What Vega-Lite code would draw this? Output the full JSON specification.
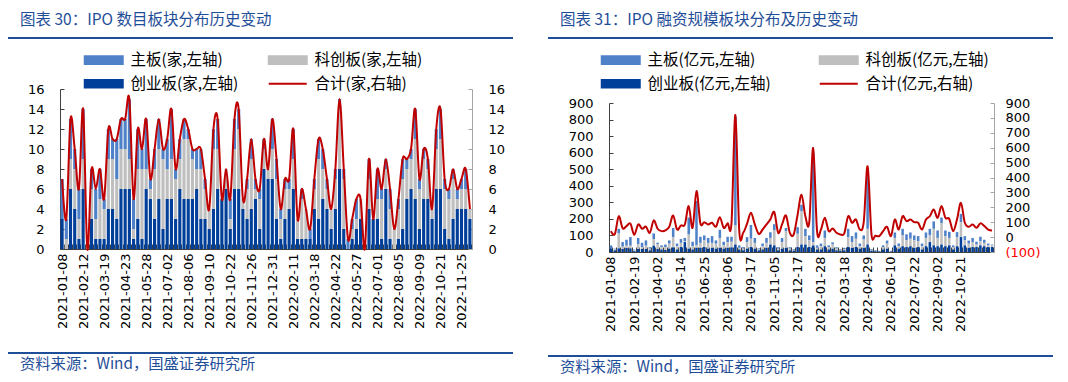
{
  "$schema": "https://vega.github.io/schema/vega-lite/v6.json",
  "padding": {"left": 8, "top": 12, "right": 0, "bottom": 0},
  "config": {
    "font": "Noto Sans CJK SC",
    "view": {"stroke": null},
    "axis": {"labelFont": "DejaVu Sans", "labelFontSize": 13, "labelColor": "#000000", "grid": false, "domainColor": "#404040", "tickColor": "#404040"},
    "legend": {"labelFont": "Noto Sans CJK SC", "labelFontSize": 15.5, "labelColor": "#000000", "padding": 0},
    "title": {"font": "Noto Sans CJK SC", "color": "#1F4E99", "fontWeight": "normal", "anchor": "start"},
    "concat": {"spacing": 34}
  },
  "datasets": {
    "cnt": [
      {"date":"2021-01-08","cyb":3,"kcb":0,"zb":4,"hj":7},
      {"date":"2021-01-15","cyb":0,"kcb":1,"zb":2,"hj":3},
      {"date":"2021-01-22","cyb":6,"kcb":3,"zb":4,"hj":13},
      {"date":"2021-01-29","cyb":4,"kcb":4,"zb":2,"hj":10},
      {"date":"2021-02-05","cyb":1,"kcb":2,"zb":3,"hj":6},
      {"date":"2021-02-12","cyb":6,"kcb":3,"zb":5,"hj":14},
      {"date":"2021-02-19","cyb":0,"kcb":0,"zb":0,"hj":0},
      {"date":"2021-02-26","cyb":3,"kcb":3,"zb":2,"hj":8},
      {"date":"2021-03-05","cyb":1,"kcb":2,"zb":3,"hj":6},
      {"date":"2021-03-12","cyb":1,"kcb":4,"zb":3,"hj":8},
      {"date":"2021-03-19","cyb":1,"kcb":3,"zb":1,"hj":5},
      {"date":"2021-03-26","cyb":4,"kcb":5,"zb":3,"hj":12},
      {"date":"2021-04-02","cyb":4,"kcb":5,"zb":2,"hj":11},
      {"date":"2021-04-09","cyb":3,"kcb":4,"zb":4,"hj":11},
      {"date":"2021-04-16","cyb":6,"kcb":4,"zb":3,"hj":13},
      {"date":"2021-04-23","cyb":6,"kcb":4,"zb":3,"hj":13},
      {"date":"2021-04-30","cyb":6,"kcb":3,"zb":6,"hj":15},
      {"date":"2021-05-07","cyb":1,"kcb":1,"zb":3,"hj":5},
      {"date":"2021-05-14","cyb":3,"kcb":5,"zb":4,"hj":12},
      {"date":"2021-05-21","cyb":1,"kcb":7,"zb":2,"hj":10},
      {"date":"2021-05-28","cyb":6,"kcb":2,"zb":5,"hj":13},
      {"date":"2021-06-04","cyb":5,"kcb":1,"zb":1,"hj":7},
      {"date":"2021-06-11","cyb":3,"kcb":5,"zb":2,"hj":10},
      {"date":"2021-06-18","cyb":5,"kcb":5,"zb":3,"hj":13},
      {"date":"2021-06-25","cyb":2,"kcb":7,"zb":1,"hj":10},
      {"date":"2021-07-02","cyb":5,"kcb":3,"zb":3,"hj":11},
      {"date":"2021-07-09","cyb":5,"kcb":4,"zb":5,"hj":14},
      {"date":"2021-07-16","cyb":3,"kcb":4,"zb":1,"hj":8},
      {"date":"2021-07-23","cyb":6,"kcb":3,"zb":2,"hj":11},
      {"date":"2021-07-30","cyb":5,"kcb":6,"zb":2,"hj":13},
      {"date":"2021-08-06","cyb":5,"kcb":6,"zb":1,"hj":12},
      {"date":"2021-08-13","cyb":5,"kcb":4,"zb":1,"hj":10},
      {"date":"2021-08-20","cyb":6,"kcb":2,"zb":2,"hj":10},
      {"date":"2021-08-27","cyb":3,"kcb":5,"zb":2,"hj":10},
      {"date":"2021-09-03","cyb":3,"kcb":3,"zb":1,"hj":7},
      {"date":"2021-09-10","cyb":2,"kcb":2,"zb":0,"hj":4},
      {"date":"2021-09-17","cyb":4,"kcb":6,"zb":2,"hj":12},
      {"date":"2021-09-24","cyb":6,"kcb":4,"zb":3,"hj":13},
      {"date":"2021-10-08","cyb":5,"kcb":0,"zb":0,"hj":5},
      {"date":"2021-10-15","cyb":6,"kcb":2,"zb":0,"hj":8},
      {"date":"2021-10-22","cyb":2,"kcb":1,"zb":2,"hj":5},
      {"date":"2021-10-29","cyb":6,"kcb":4,"zb":3,"hj":13},
      {"date":"2021-11-05","cyb":6,"kcb":6,"zb":2,"hj":14},
      {"date":"2021-11-12","cyb":4,"kcb":1,"zb":0,"hj":5},
      {"date":"2021-11-19","cyb":3,"kcb":3,"zb":1,"hj":7},
      {"date":"2021-11-26","cyb":4,"kcb":5,"zb":2,"hj":11},
      {"date":"2021-12-03","cyb":5,"kcb":1,"zb":1,"hj":7},
      {"date":"2021-12-10","cyb":2,"kcb":3,"zb":1,"hj":6},
      {"date":"2021-12-17","cyb":8,"kcb":2,"zb":1,"hj":11},
      {"date":"2021-12-24","cyb":7,"kcb":1,"zb":0,"hj":8},
      {"date":"2021-12-31","cyb":7,"kcb":3,"zb":3,"hj":13},
      {"date":"2022-01-07","cyb":3,"kcb":4,"zb":2,"hj":9},
      {"date":"2022-01-14","cyb":1,"kcb":2,"zb":1,"hj":4},
      {"date":"2022-01-21","cyb":3,"kcb":3,"zb":1,"hj":7},
      {"date":"2022-01-28","cyb":4,"kcb":2,"zb":1,"hj":7},
      {"date":"2022-02-11","cyb":6,"kcb":3,"zb":3,"hj":12},
      {"date":"2022-02-18","cyb":1,"kcb":2,"zb":0,"hj":3},
      {"date":"2022-02-25","cyb":1,"kcb":4,"zb":1,"hj":6},
      {"date":"2022-03-04","cyb":1,"kcb":3,"zb":0,"hj":4},
      {"date":"2022-03-11","cyb":1,"kcb":0,"zb":1,"hj":2},
      {"date":"2022-03-18","cyb":4,"kcb":2,"zb":1,"hj":7},
      {"date":"2022-03-25","cyb":3,"kcb":6,"zb":2,"hj":11},
      {"date":"2022-04-01","cyb":5,"kcb":3,"zb":2,"hj":10},
      {"date":"2022-04-08","cyb":4,"kcb":2,"zb":1,"hj":7},
      {"date":"2022-04-15","cyb":2,"kcb":2,"zb":0,"hj":4},
      {"date":"2022-04-22","cyb":4,"kcb":3,"zb":1,"hj":8},
      {"date":"2022-04-29","cyb":8,"kcb":6,"zb":1,"hj":15},
      {"date":"2022-05-06","cyb":2,"kcb":5,"zb":1,"hj":8},
      {"date":"2022-05-13","cyb":0,"kcb":0,"zb":1,"hj":1},
      {"date":"2022-05-20","cyb":1,"kcb":1,"zb":1,"hj":3},
      {"date":"2022-05-27","cyb":2,"kcb":1,"zb":2,"hj":5},
      {"date":"2022-06-03","cyb":3,"kcb":2,"zb":0,"hj":5},
      {"date":"2022-06-10","cyb":0,"kcb":0,"zb":0,"hj":0},
      {"date":"2022-06-17","cyb":4,"kcb":3,"zb":2,"hj":9},
      {"date":"2022-06-24","cyb":3,"kcb":0,"zb":0,"hj":3},
      {"date":"2022-07-01","cyb":3,"kcb":2,"zb":3,"hj":8},
      {"date":"2022-07-08","cyb":1,"kcb":4,"zb":1,"hj":6},
      {"date":"2022-07-15","cyb":6,"kcb":2,"zb":1,"hj":9},
      {"date":"2022-07-22","cyb":1,"kcb":3,"zb":2,"hj":6},
      {"date":"2022-07-29","cyb":0,"kcb":2,"zb":0,"hj":2},
      {"date":"2022-08-05","cyb":1,"kcb":3,"zb":1,"hj":5},
      {"date":"2022-08-12","cyb":2,"kcb":5,"zb":2,"hj":9},
      {"date":"2022-08-19","cyb":5,"kcb":3,"zb":1,"hj":9},
      {"date":"2022-08-26","cyb":6,"kcb":3,"zb":1,"hj":10},
      {"date":"2022-09-02","cyb":5,"kcb":6,"zb":3,"hj":14},
      {"date":"2022-09-09","cyb":2,"kcb":4,"zb":1,"hj":7},
      {"date":"2022-09-16","cyb":5,"kcb":4,"zb":1,"hj":10},
      {"date":"2022-09-23","cyb":5,"kcb":3,"zb":1,"hj":9},
      {"date":"2022-09-30","cyb":3,"kcb":1,"zb":0,"hj":4},
      {"date":"2022-10-14","cyb":6,"kcb":4,"zb":2,"hj":12},
      {"date":"2022-10-21","cyb":6,"kcb":5,"zb":3,"hj":14},
      {"date":"2022-10-28","cyb":2,"kcb":4,"zb":1,"hj":7},
      {"date":"2022-11-04","cyb":1,"kcb":4,"zb":1,"hj":6},
      {"date":"2022-11-11","cyb":3,"kcb":4,"zb":1,"hj":8},
      {"date":"2022-11-18","cyb":4,"kcb":1,"zb":1,"hj":6},
      {"date":"2022-11-25","cyb":4,"kcb":2,"zb":1,"hj":7},
      {"date":"2022-12-02","cyb":4,"kcb":2,"zb":2,"hj":8},
      {"date":"2022-12-09","cyb":3,"kcb":1,"zb":0,"hj":4}
    ],
    "amt": [
      {"date":"2021-01-08","cyb":20,"kcb":0,"zb":20,"hj":40},
      {"date":"2021-01-15","cyb":10,"kcb":5,"zb":5,"hj":20},
      {"date":"2021-01-22","cyb":22,"kcb":90,"zb":28,"hj":140},
      {"date":"2021-01-29","cyb":18,"kcb":14,"zb":28,"hj":60},
      {"date":"2021-02-05","cyb":24,"kcb":14,"zb":36,"hj":74},
      {"date":"2021-02-12","cyb":22,"kcb":16,"zb":52,"hj":90},
      {"date":"2021-02-19","cyb":5,"kcb":5,"zb":5,"hj":15},
      {"date":"2021-02-26","cyb":18,"kcb":30,"zb":37,"hj":85},
      {"date":"2021-03-05","cyb":18,"kcb":10,"zb":28,"hj":56},
      {"date":"2021-03-12","cyb":18,"kcb":20,"zb":32,"hj":70},
      {"date":"2021-03-19","cyb":10,"kcb":10,"zb":9,"hj":29},
      {"date":"2021-03-26","cyb":38,"kcb":40,"zb":34,"hj":112},
      {"date":"2021-04-02","cyb":18,"kcb":28,"zb":10,"hj":56},
      {"date":"2021-04-09","cyb":15,"kcb":15,"zb":10,"hj":40},
      {"date":"2021-04-16","cyb":12,"kcb":18,"zb":15,"hj":45},
      {"date":"2021-04-23","cyb":20,"kcb":30,"zb":20,"hj":70},
      {"date":"2021-04-30","cyb":28,"kcb":62,"zb":55,"hj":145},
      {"date":"2021-05-07","cyb":15,"kcb":20,"zb":16,"hj":51},
      {"date":"2021-05-14","cyb":30,"kcb":25,"zb":23,"hj":78},
      {"date":"2021-05-21","cyb":60,"kcb":5,"zb":20,"hj":85},
      {"date":"2021-05-28","cyb":20,"kcb":85,"zb":103,"hj":208},
      {"date":"2021-06-04","cyb":15,"kcb":20,"zb":27,"hj":62},
      {"date":"2021-06-11","cyb":25,"kcb":15,"zb":269,"hj":309},
      {"date":"2021-06-18","cyb":25,"kcb":30,"zb":37,"hj":92},
      {"date":"2021-06-25","cyb":30,"kcb":40,"zb":30,"hj":100},
      {"date":"2021-07-02","cyb":20,"kcb":35,"zb":30,"hj":85},
      {"date":"2021-07-09","cyb":25,"kcb":30,"zb":41,"hj":96},
      {"date":"2021-07-16","cyb":20,"kcb":30,"zb":20,"hj":70},
      {"date":"2021-07-23","cyb":25,"kcb":60,"zb":49,"hj":134},
      {"date":"2021-07-30","cyb":20,"kcb":20,"zb":22,"hj":62},
      {"date":"2021-08-06","cyb":25,"kcb":35,"zb":32,"hj":92},
      {"date":"2021-08-13","cyb":28,"kcb":34,"zb":30,"hj":92},
      {"date":"2021-08-20","cyb":45,"kcb":115,"zb":660,"hj":820},
      {"date":"2021-08-27","cyb":15,"kcb":10,"zb":15,"hj":40},
      {"date":"2021-09-03","cyb":10,"kcb":10,"zb":9,"hj":29},
      {"date":"2021-09-10","cyb":20,"kcb":40,"zb":30,"hj":90},
      {"date":"2021-09-17","cyb":30,"kcb":50,"zb":83,"hj":163},
      {"date":"2021-09-24","cyb":20,"kcb":35,"zb":30,"hj":85},
      {"date":"2021-10-08","cyb":10,"kcb":5,"zb":7,"hj":22},
      {"date":"2021-10-15","cyb":15,"kcb":20,"zb":16,"hj":51},
      {"date":"2021-10-22","cyb":25,"kcb":30,"zb":30,"hj":85},
      {"date":"2021-10-29","cyb":45,"kcb":40,"zb":34,"hj":119},
      {"date":"2021-11-05","cyb":40,"kcb":90,"zb":38,"hj":168},
      {"date":"2021-11-12","cyb":10,"kcb":10,"zb":9,"hj":29},
      {"date":"2021-11-19","cyb":20,"kcb":40,"zb":25,"hj":85},
      {"date":"2021-11-26","cyb":25,"kcb":100,"zb":20,"hj":145},
      {"date":"2021-12-03","cyb":10,"kcb":10,"zb":9,"hj":29},
      {"date":"2021-12-10","cyb":8,"kcb":5,"zb":5,"hj":18},
      {"date":"2021-12-17","cyb":30,"kcb":80,"zb":40,"hj":150},
      {"date":"2021-12-24","cyb":45,"kcb":200,"zb":40,"hj":285},
      {"date":"2021-12-31","cyb":45,"kcb":50,"zb":45,"hj":140},
      {"date":"2022-01-07","cyb":30,"kcb":40,"zb":30,"hj":100},
      {"date":"2022-01-14","cyb":40,"kcb":20,"zb":538,"hj":598},
      {"date":"2022-01-21","cyb":15,"kcb":10,"zb":15,"hj":40},
      {"date":"2022-01-28","cyb":15,"kcb":20,"zb":16,"hj":51},
      {"date":"2022-02-11","cyb":35,"kcb":50,"zb":45,"hj":130},
      {"date":"2022-02-18","cyb":15,"kcb":15,"zb":10,"hj":40},
      {"date":"2022-02-25","cyb":20,"kcb":25,"zb":13,"hj":58},
      {"date":"2022-03-04","cyb":10,"kcb":10,"zb":9,"hj":29},
      {"date":"2022-03-11","cyb":8,"kcb":5,"zb":5,"hj":18},
      {"date":"2022-03-18","cyb":10,"kcb":8,"zb":7,"hj":25},
      {"date":"2022-03-25","cyb":30,"kcb":60,"zb":50,"hj":140},
      {"date":"2022-04-01","cyb":25,"kcb":35,"zb":36,"hj":96},
      {"date":"2022-04-08","cyb":30,"kcb":50,"zb":38,"hj":118},
      {"date":"2022-04-15","cyb":20,"kcb":15,"zb":16,"hj":51},
      {"date":"2022-04-22","cyb":25,"kcb":50,"zb":25,"hj":100},
      {"date":"2022-04-29","cyb":45,"kcb":95,"zb":335,"hj":475},
      {"date":"2022-05-06","cyb":8,"kcb":5,"zb":5,"hj":18},
      {"date":"2022-05-13","cyb":5,"kcb":0,"zb":5,"hj":10},
      {"date":"2022-05-20","cyb":3,"kcb":0,"zb":4,"hj":7},
      {"date":"2022-05-27","cyb":15,"kcb":15,"zb":10,"hj":40},
      {"date":"2022-06-03","cyb":20,"kcb":30,"zb":19,"hj":69},
      {"date":"2022-06-10","cyb":0,"kcb":0,"zb":7,"hj":7},
      {"date":"2022-06-17","cyb":40,"kcb":45,"zb":33,"hj":118},
      {"date":"2022-06-24","cyb":20,"kcb":15,"zb":16,"hj":51},
      {"date":"2022-07-01","cyb":35,"kcb":65,"zb":40,"hj":140},
      {"date":"2022-07-08","cyb":30,"kcb":40,"zb":37,"hj":107},
      {"date":"2022-07-15","cyb":35,"kcb":45,"zb":38,"hj":118},
      {"date":"2022-07-22","cyb":25,"kcb":45,"zb":30,"hj":100},
      {"date":"2022-07-29","cyb":30,"kcb":35,"zb":31,"hj":96},
      {"date":"2022-08-05","cyb":15,"kcb":20,"zb":16,"hj":51},
      {"date":"2022-08-12","cyb":35,"kcb":50,"zb":33,"hj":118},
      {"date":"2022-08-19","cyb":60,"kcb":40,"zb":40,"hj":140},
      {"date":"2022-08-26","cyb":40,"kcb":100,"zb":45,"hj":185},
      {"date":"2022-09-02","cyb":35,"kcb":50,"zb":45,"hj":130},
      {"date":"2022-09-09","cyb":45,"kcb":130,"zb":33,"hj":208},
      {"date":"2022-09-16","cyb":35,"kcb":60,"zb":35,"hj":130},
      {"date":"2022-09-23","cyb":40,"kcb":45,"zb":37,"hj":122},
      {"date":"2022-09-30","cyb":15,"kcb":15,"zb":10,"hj":40},
      {"date":"2022-10-14","cyb":35,"kcb":55,"zb":30,"hj":120},
      {"date":"2022-10-21","cyb":90,"kcb":90,"zb":50,"hj":230},
      {"date":"2022-10-28","cyb":40,"kcb":30,"zb":26,"hj":96},
      {"date":"2022-11-04","cyb":25,"kcb":25,"zb":19,"hj":69},
      {"date":"2022-11-11","cyb":30,"kcb":30,"zb":25,"hj":85},
      {"date":"2022-11-18","cyb":30,"kcb":15,"zb":17,"hj":62},
      {"date":"2022-11-25","cyb":40,"kcb":25,"zb":27,"hj":92},
      {"date":"2022-12-02","cyb":35,"kcb":20,"zb":19,"hj":74},
      {"date":"2022-12-09","cyb":30,"kcb":10,"zb":11,"hj":51},
      {"date":"2022-12-16","cyb":30,"kcb":10,"zb":5,"hj":45}
    ]
  },
  "hconcat": [
    {
      "spacing": 13,
      "resolve": {"scale": {"color": "independent"}, "legend": {"color": "independent"}},
      "vconcat": [
        {
          "title": {"text": "图表 30：IPO 数目板块分布历史变动", "fontSize": 15.5, "offset": 9, "dx": 12},
          "width": 453, "height": 2,
          "data": {"values": [{}]},
          "mark": {"type": "rect", "color": "#1F4E99", "clip": false},
          "encoding": {
            "x": {"datum": -52, "type": "quantitative", "scale": {"domain": [0, 453], "nice": false, "zero": false}, "axis": null},
            "x2": {"datum": 453}
          }
        },
        {
          "width": 412, "height": 160,
          "data": {"name": "cnt"},
          "layer": [
            {
              "transform": [{"fold": ["zb", "kcb", "cyb"], "as": ["series", "value"]}],
              "mark": {"type": "bar"},
              "encoding": {
                "x": {"field": "date", "type": "ordinal", "sort": null,
                  "scale": {"paddingInner": 0.25, "paddingOuter": 0.125},
                  "axis": {"title": null, "labelAngle": -90, "tickBand": "extent", "tickSize": -5, "labelPadding": 9, "labelOverlap": false, "minExtent": 90,
                    "labelExpr": "indexof(['2021-01-08','2021-02-12','2021-03-19','2021-04-23','2021-05-28','2021-07-02','2021-08-06','2021-09-10','2021-10-22','2021-11-26','2021-12-31','2022-02-11','2022-03-18','2022-04-22','2022-05-27','2022-07-01','2022-08-05','2022-09-09','2022-10-21','2022-11-25'], datum.value) >= 0 ? datum.value : ''"}},
                "y": {"field": "value", "type": "quantitative", "stack": "zero",
                  "scale": {"domain": [0, 16], "nice": false},
                  "axis": {"orient": "left", "title": null, "values": [0,2,4,6,8,10,12,14,16], "tickSize": -4, "labelPadding": 20, "minExtent": 52}},
                "color": {"field": "series", "type": "nominal",
                  "scale": {"domain": ["zb", "kcb", "cyb", "hj"], "range": ["#4F81C8", "#BFBFBF", "#003F99", "#C00000"]},
                  "legend": {"orient": "none", "legendX": 36, "legendY": -37, "direction": "horizontal", "columns": 2, "columnPadding": 25, "rowPadding": 6, "title": null,
                    "symbolType": "M-3.8,-0.77H3.8V0.77H-3.8Z", "symbolSize": 100, "labelOffset": 19,
                    "labelExpr": "datum.value == 'zb' ? '主板(家,左轴)' : datum.value == 'kcb' ? '科创板(家,左轴)' : datum.value == 'cyb' ? '创业板(家,左轴)' : '合计(家,右轴)'",
                    "encode": {"symbols": {"update": {
                      "shape": {"signal": "datum.value == 'hj' ? 'M-3.8,0H3.8' : 'M-3.8,-0.77H3.8V0.77H-3.8Z'"},
                      "fill": {"signal": "datum.value == 'zb' ? '#4F81C8' : datum.value == 'kcb' ? '#BFBFBF' : datum.value == 'cyb' ? '#003F99' : 'transparent'"},
                      "stroke": {"signal": "datum.value == 'hj' ? '#C00000' : 'transparent'"},
                      "strokeWidth": {"value": 2},
                      "opacity": {"value": 1}}}}}},
                "order": {"field": "series", "sort": "ascending"}
              }
            },
            {
              "mark": {"type": "line", "interpolate": "cardinal", "strokeWidth": 2, "clip": false},
              "encoding": {
                "x": {"field": "date", "type": "ordinal", "sort": null},
                "y": {"field": "hj", "type": "quantitative",
                  "scale": {"domain": [0, 16], "nice": false},
                  "axis": {"orient": "right", "title": null, "values": [0,2,4,6,8,10,12,14,16], "tickSize": -4, "labelPadding": 20, "domainColor": "#A6A6A6", "tickColor": "#A6A6A6"}},
                "color": {"datum": "hj", "type": "nominal"}
              }
            }
          ],
          "resolve": {"scale": {"y": "independent"}}
        },
        {
          "title": {"text": "资料来源：Wind，国盛证券研究所", "orient": "bottom", "fontSize": 15.3, "offset": 3, "dx": 12},
          "width": 453, "height": 2,
          "data": {"values": [{}]},
          "mark": {"type": "rect", "color": "#1F4E99", "clip": false},
          "encoding": {
            "x": {"datum": -52, "type": "quantitative", "scale": {"domain": [0, 453], "nice": false, "zero": false}, "axis": null},
            "x2": {"datum": 453}
          }
        }
      ]
    },
    {
      "spacing": 13,
      "resolve": {"scale": {"color": "independent"}, "legend": {"color": "independent"}},
      "vconcat": [
        {
          "title": {"text": "图表 31：IPO 融资规模板块分布及历史变动", "fontSize": 15.5, "offset": 9, "dx": 12},
          "width": 444, "height": 2,
          "data": {"values": [{}]},
          "mark": {"type": "rect", "color": "#1F4E99", "clip": false},
          "encoding": {
            "x": {"datum": -61, "type": "quantitative", "scale": {"domain": [0, 444], "nice": false, "zero": false}, "axis": null},
            "x2": {"datum": 444}
          }
        },
        {
          "width": 385, "height": 149,
          "data": {"name": "amt"},
          "layer": [
            {
              "transform": [{"fold": ["zb", "kcb", "cyb"], "as": ["series", "value"]}],
              "mark": {"type": "bar"},
              "encoding": {
                "x": {"field": "date", "type": "ordinal", "sort": null,
                  "scale": {"paddingInner": 0.35, "paddingOuter": 0.175},
                  "axis": {"title": null, "labelAngle": -90, "tickBand": "extent", "tickSize": -5, "labelPadding": 9, "labelOverlap": false, "minExtent": 90,
                    "labelExpr": "indexof(['2021-01-08','2021-02-19','2021-04-02','2021-05-14','2021-06-25','2021-08-06','2021-09-17','2021-11-05','2021-12-17','2022-01-28','2022-03-18','2022-04-29','2022-06-10','2022-07-22','2022-09-02','2022-10-21'], datum.value) >= 0 ? datum.value : ''"}},
                "y": {"field": "value", "type": "quantitative", "stack": "zero",
                  "scale": {"domain": [0, 900], "nice": false},
                  "axis": {"orient": "left", "title": null, "values": [0,100,200,300,400,500,600,700,800,900], "tickSize": -4, "labelPadding": 20, "minExtent": 61}},
                "color": {"field": "series", "type": "nominal",
                  "scale": {"domain": ["zb", "kcb", "cyb", "hj"], "range": ["#4F81C8", "#BFBFBF", "#003F99", "#C00000"]},
                  "legend": {"orient": "none", "legendX": 4, "legendY": -51, "direction": "horizontal", "columns": 2, "columnPadding": 44, "rowPadding": 6, "title": null,
                    "symbolType": "M-3.8,-0.77H3.8V0.77H-3.8Z", "symbolSize": 100, "labelOffset": 19,
                    "labelExpr": "datum.value == 'zb' ? '主板(亿元,左轴)' : datum.value == 'kcb' ? '科创板(亿元,左轴)' : datum.value == 'cyb' ? '创业板(亿元,左轴)' : '合计(亿元,右轴)'",
                    "encode": {"symbols": {"update": {
                      "shape": {"signal": "datum.value == 'hj' ? 'M-3.8,0H3.8' : 'M-3.8,-0.77H3.8V0.77H-3.8Z'"},
                      "fill": {"signal": "datum.value == 'zb' ? '#4F81C8' : datum.value == 'kcb' ? '#BFBFBF' : datum.value == 'cyb' ? '#003F99' : 'transparent'"},
                      "stroke": {"signal": "datum.value == 'hj' ? '#C00000' : 'transparent'"},
                      "strokeWidth": {"value": 2},
                      "opacity": {"value": 1}}}}}},
                "order": {"field": "series", "sort": "ascending"}
              }
            },
            {
              "mark": {"type": "line", "interpolate": "cardinal", "strokeWidth": 2, "clip": false},
              "encoding": {
                "x": {"field": "date", "type": "ordinal", "sort": null},
                "y": {"field": "hj", "type": "quantitative",
                  "scale": {"domain": [-100, 900], "nice": false},
                  "axis": {"orient": "right", "title": null, "values": [-100,0,100,200,300,400,500,600,700,800,900], "tickSize": -4, "labelPadding": 15, "domainColor": "#A6A6A6", "tickColor": "#A6A6A6",
                    "labelExpr": "datum.value < 0 ? '(' + abs(datum.value) + ')' : datum.label",
                    "labelColor": {"condition": {"test": "datum.value < 0", "value": "#FF0000"}, "value": "#000000"}}},
                "color": {"datum": "hj", "type": "nominal"}
              }
            }
          ],
          "resolve": {"scale": {"y": "independent"}}
        },
        {
          "title": {"text": "资料来源：Wind，国盛证券研究所", "orient": "bottom", "fontSize": 15.3, "offset": 3, "dx": 12},
          "width": 444, "height": 2,
          "data": {"values": [{}]},
          "mark": {"type": "rect", "color": "#1F4E99", "clip": false},
          "encoding": {
            "x": {"datum": -61, "type": "quantitative", "scale": {"domain": [0, 444], "nice": false, "zero": false}, "axis": null},
            "x2": {"datum": 444}
          }
        }
      ]
    }
  ],
  "resolve": {"scale": {"color": "independent"}, "legend": {"color": "independent"}}
}
